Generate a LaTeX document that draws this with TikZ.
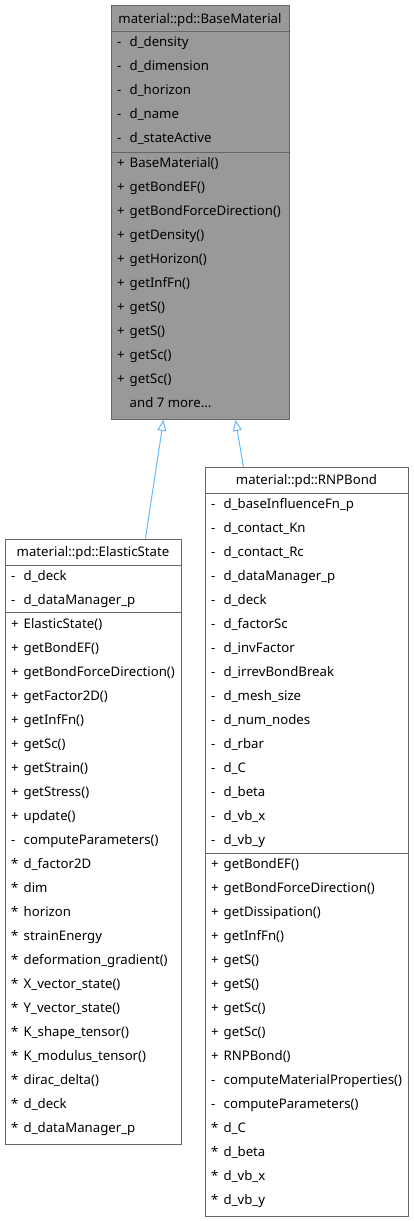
\documentclass[tikz,border=0pt]{standalone}
\usepackage{fontspec}
\setmainfont{Noto Sans}
\usetikzlibrary{arrows.meta,calc}
\definecolor{boxline}{HTML}{666666}
\definecolor{basefill}{HTML}{999999}
\definecolor{edgeblue}{HTML}{63B8FF}
\tikzset{
 classbox/.style={draw=boxline, line width=0.9pt, anchor=north west, inner sep=0pt},
 sepline/.style={draw=boxline, line width=0.9pt},
 member/.style={anchor=west, inner sep=0pt, text height=9.8pt, text depth=3pt, font=\fontsize{13.2}{15}\selectfont, yshift=-1.5pt},
 classtitle/.style={member, anchor=center},
 inherit/.style={draw=edgeblue, line width=1pt, -{Triangle[open, length=11pt, width=9pt, fill=white]}}
}
\newcommand\mrow[1]{\makebox[12.5pt][l]{#1}}
\newcommand\andmore{and 7 more...}
\begin{document}
\begin{tikzpicture}[x=1pt,y=-1pt]
\useasboundingbox (0,0) rectangle (413,1221);
% BaseMaterial
\node[classbox, fill=basefill, minimum width=178pt, minimum height=414pt] (base) at (111,5) {};
\node[classtitle] (baseT) at (200,18.5) {material::pd::BaseMaterial};
\draw[sepline] (111,31.5) -- (289,31.5);
\draw[sepline] (111,152) -- (289,152);
\foreach \s/\t [count=\i from 0] in {-/d\_density,-/d\_dimension,-/d\_horizon,-/d\_name,-/d\_stateActive}
  \node[member] (baseA\i) at (117,42+24*\i) {\mrow{\s}\t};
\foreach \s/\t [count=\i from 0] in {+/BaseMaterial(),+/getBondEF(),+/getBondForceDirection(),+/getDensity(),+/getHorizon(),+/getInfFn(),+/getS(),+/getS(),+/getSc(),+/getSc(),{}/\andmore}
  \node[member] (baseM\i) at (117,163+24*\i) {\mrow{\s}\t};
% ElasticState
\node[classbox, fill=white, minimum width=176pt, minimum height=605pt] (es) at (5,538.5) {};
\node[classtitle] (esT) at (93,552) {material::pd::ElasticState};
\draw[sepline] (5,565) -- (181,565);
\draw[sepline] (5,612) -- (181,612);
\foreach \s/\t [count=\i from 0] in {-/d\_deck,-/d\_dataManager\_p}
  \node[member] (esA\i) at (11,576+24*\i) {\mrow{\s}\t};
\foreach \s/\t [count=\i from 0] in {+/ElasticState(),+/getBondEF(),+/getBondForceDirection(),+/getFactor2D(),+/getInfFn(),+/getSc(),+/getStrain(),+/getStress(),+/update(),-/computeParameters(),*/d\_factor2D,*/dim,*/horizon,*/strainEnergy,*/deformation\_gradient(),*/X\_vector\_state(),*/Y\_vector\_state(),*/K\_shape\_tensor(),*/K\_modulus\_tensor(),*/dirac\_delta(),*/d\_deck,*/d\_dataManager\_p}
  \node[member] (esM\i) at (11,624+24*\i) {\mrow{\s}\t};
% RNPBond
\node[classbox, fill=white, minimum width=203pt, minimum height=749pt] (rnp) at (205,467) {};
\node[classtitle] (rnpT) at (306.5,480) {material::pd::RNPBond};
\draw[sepline] (205,493) -- (408,493);
\draw[sepline] (205,853) -- (408,853);
\foreach \s/\t [count=\i from 0] in {-/d\_baseInfluenceFn\_p,-/d\_contact\_Kn,-/d\_contact\_Rc,-/d\_dataManager\_p,-/d\_deck,-/d\_factorSc,-/d\_invFactor,-/d\_irrevBondBreak,-/d\_mesh\_size,-/d\_num\_nodes,-/d\_rbar,-/d\_C,-/d\_beta,-/d\_vb\_x,-/d\_vb\_y}
  \node[member] (rnpA\i) at (211,504+24*\i) {\mrow{\s}\t};
\foreach \s/\t [count=\i from 0] in {+/getBondEF(),+/getBondForceDirection(),+/getDissipation(),+/getInfFn(),+/getS(),+/getS(),+/getSc(),+/getSc(),+/RNPBond(),-/computeMaterialProperties(),-/computeParameters(),*/d\_C,*/d\_beta,*/d\_vb\_x,*/d\_vb\_y}
  \node[member] (rnpM\i) at (211,864+24*\i) {\mrow{\s}\t};
% inheritance
\draw[inherit] ([xshift=52pt]es.north) -- ([xshift=-37pt]base.south);
\draw[inherit] ([xshift=-63.5pt]rnp.north) -- ([xshift=35pt]base.south);
\end{tikzpicture}
\end{document}
